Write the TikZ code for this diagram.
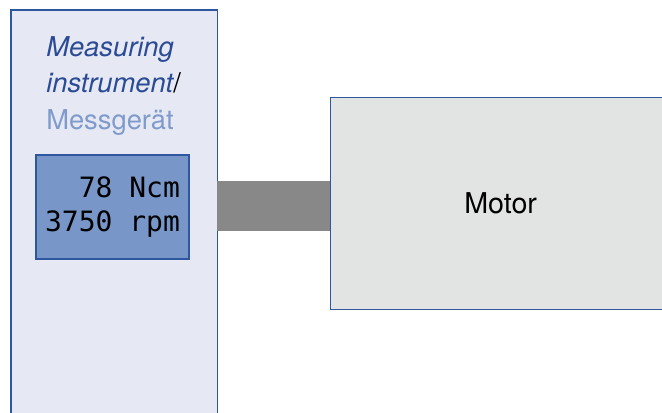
\documentclass[tikz,border=0pt]{standalone}
\usepackage{fontspec}
\setmainfont{TeX Gyre Heros}
\setmonofont{DejaVu Sans Mono}
\usetikzlibrary{positioning}

\definecolor{frameblue}{HTML}{2E57A0}
\definecolor{instrfill}{HTML}{E6E8F4}
\definecolor{dispfill}{HTML}{7896C8}
\definecolor{titleblue}{HTML}{2B4C95}
\definecolor{lightblue}{HTML}{7E9BCB}
\definecolor{motorfill}{HTML}{E2E3E3}
\definecolor{shaftgray}{HTML}{888888}

\begin{document}
\begin{tikzpicture}[x=0.75pt, y=-0.75pt,
            % Styles
            instrument/.style={rectangle, draw=frameblue, fill=instrfill, line width=1.2pt, minimum width=155pt, minimum height=315pt, inner sep=0pt},
            display/.style={rectangle, draw=frameblue, fill=dispfill, line width=1pt, minimum width=114.75pt, minimum height=78pt, align=right, font=\ttfamily\fontsize{21}{26}\selectfont},
            motor/.style={rectangle, draw=frameblue, fill=motorfill, line width=1pt, minimum width=255pt, minimum height=159pt, font=\fontsize{21.5}{24}\selectfont},
            shaft/.style={rectangle, fill=shaftgray, minimum width=84.75pt, minimum height=37.5pt, inner sep=0pt},
            title/.style={anchor=north west, align=left, inner sep=0pt, font=\fontsize{20.5}{27.5}\selectfont}
        ]
        \useasboundingbox (0,0) rectangle (662,412);
        \clip (0,0) rectangle (662,412);

        % Measuring instrument
        \node [instrument, anchor=north west] (instr) at (10,9) {};
        \node [title] (caption) at (46,36) {%
            \textcolor{titleblue}{\itshape Measuring}\\
            \textcolor{titleblue}{\itshape instrument}/\\
            \textcolor{lightblue}{Messgerät}};

        % Display
        \node [display] (disp) at (112.5,207) {78 Ncm\\3750 rpm};

        % Shaft
        \node [shaft, anchor=west] (shaft) at (217,206) {};

        % Motor
        \node [motor, anchor=north west] (motor) at (330,97) {Motor};

    \end{tikzpicture}
\end{document}
